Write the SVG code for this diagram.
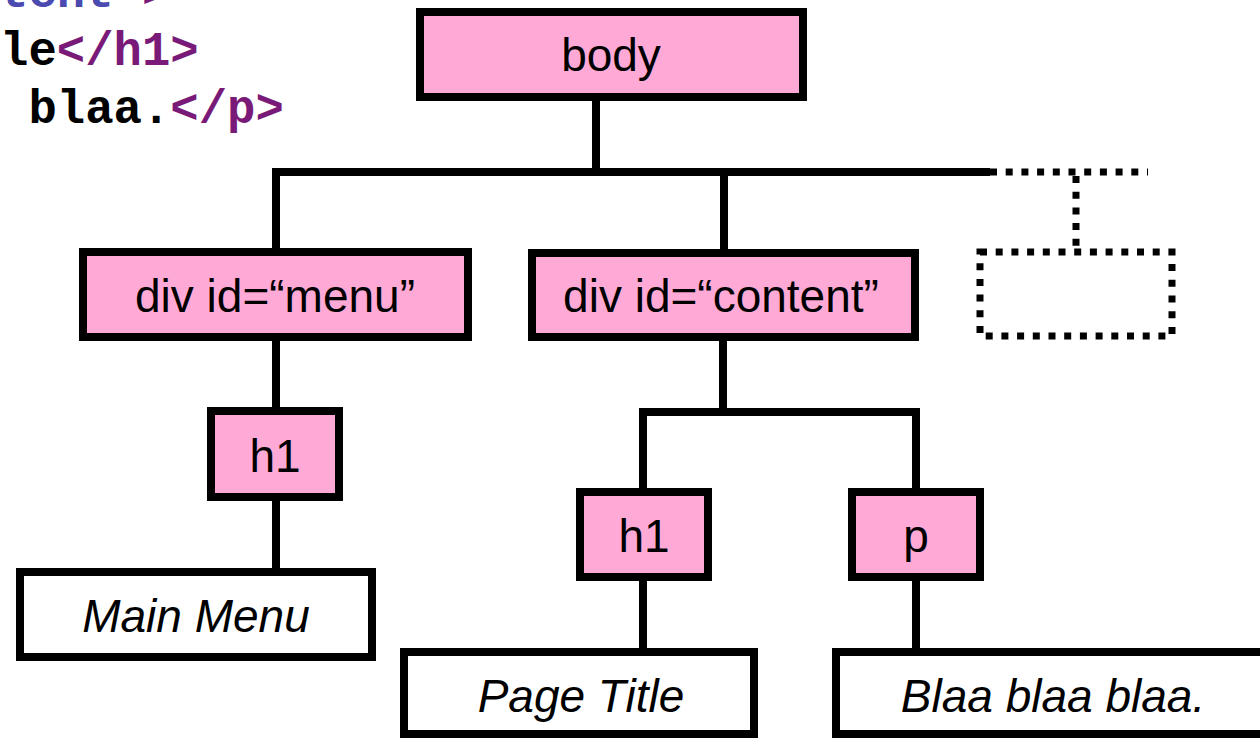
<svg xmlns="http://www.w3.org/2000/svg" width="1260" height="738" viewBox="0 0 1260 738">
  <style>
    .box { fill: #ffaad6; stroke: #000; stroke-width: 8; }
    .leaf { fill: #fff; stroke: #000; stroke-width: 8; }
    .ghost { fill: none; stroke: #000; stroke-width: 7; stroke-dasharray: 7 8.7; }
    .wire { fill: none; stroke: #000; stroke-width: 8; stroke-linejoin: miter; }
    .dot { fill: none; stroke: #000; stroke-width: 7; stroke-dasharray: 7 8.7; }
    .lbl { font-family: "Liberation Sans", Arial, sans-serif; font-size: 46px; fill: #000; text-anchor: middle; }
    .it { font-style: italic; }
    .code { font-family: "Liberation Mono", "Courier New", monospace; font-size: 47.3px; font-weight: bold; }
    .k { fill: #000; }
    .v { fill: #4a4ab0; }
    .t { fill: #7a1a78; }
  </style>

  <!-- markup snippet behind the tree -->
  <g id="source">
    <text class="code" x="0" y="7"><tspan class="v">tent"</tspan><tspan class="t">&gt;</tspan></text>
    <text class="code" x="0" y="65"><tspan class="k">le</tspan><tspan class="t">&lt;/h1&gt;</tspan></text>
    <text class="code" x="28.4" y="123"><tspan class="k">blaa.</tspan><tspan class="t">&lt;/p&gt;</tspan></text>
  </g>

  <!-- tree edges -->
  <g id="connectors">
    <path class="wire" d="M596 101 V172"/>
    <path class="wire" d="M276 252 V172 H990"/>
    <path class="wire" d="M724 172 V253"/>
    <path class="dot" d="M990 172 H1148"/>
    <path class="dot" d="M1076 176 V252"/>
    <path class="wire" d="M276 341 V411"/>
    <path class="wire" d="M276 501 V572"/>
    <path class="wire" d="M723 341 V412"/>
    <path class="wire" d="M643 492 V412 H916 V492"/>
    <path class="wire" d="M643 581 V652"/>
    <path class="wire" d="M916 581 V652"/>
  </g>

  <g id="node-body">
    <rect class="box" x="420" y="12" width="383" height="85"/>
    <text class="lbl" x="611" y="71">body</text>
  </g>

  <g id="node-div-menu">
    <rect class="box" x="83" y="252" width="385" height="85"/>
    <text class="lbl" x="275" y="312">div id=“menu”</text>
  </g>

  <g id="node-div-content">
    <rect class="box" x="532" y="253" width="383" height="84"/>
    <text class="lbl" x="721" y="312">div id=“content”</text>
  </g>

  <g id="node-more">
    <rect class="ghost" x="980" y="252" width="192" height="84"/>
  </g>

  <g id="node-menu-h1">
    <rect class="box" x="211" y="411" width="128" height="86"/>
    <text class="lbl" x="275" y="472">h1</text>
  </g>

  <g id="node-main-menu">
    <rect class="leaf" x="20" y="572" width="352" height="85"/>
    <text class="lbl it" x="196" y="632">Main Menu</text>
  </g>

  <g id="node-content-h1">
    <rect class="box" x="580" y="492" width="128" height="85"/>
    <text class="lbl" x="644" y="552">h1</text>
  </g>

  <g id="node-p">
    <rect class="box" x="852" y="492" width="128" height="85"/>
    <text class="lbl" x="916" y="552">p</text>
  </g>

  <g id="node-page-title">
    <rect class="leaf" x="404" y="652" width="350" height="82"/>
    <text class="lbl it" x="581" y="712">Page Title</text>
  </g>

  <g id="node-blaa">
    <rect class="leaf" x="836" y="652" width="440" height="82"/>
    <text class="lbl it" x="1053" y="712">Blaa blaa blaa.</text>
  </g>
</svg>
